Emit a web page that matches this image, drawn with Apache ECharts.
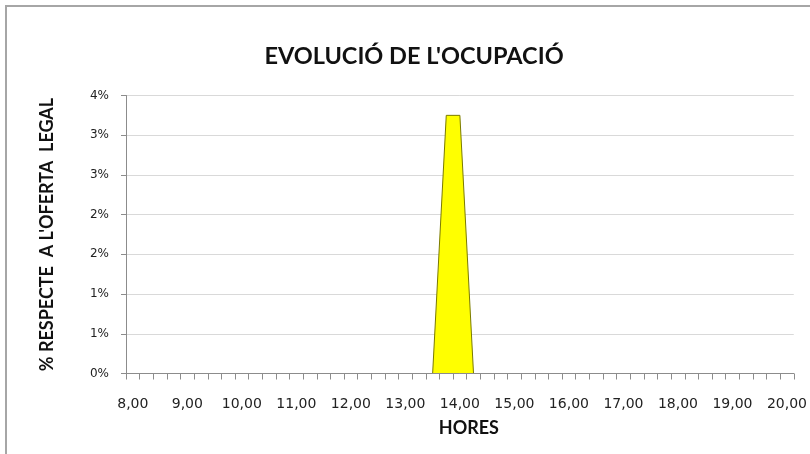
<!DOCTYPE html>
<html>
<head>
<meta charset="utf-8">
<script src="https://cdn.jsdelivr.net/npm/echarts@6/dist/echarts.min.js"></script>
<style>
  html, body { margin: 0; padding: 0; background: #fff; }
  #chart { width: 810px; height: 454px; }
</style>
</head>
<body>
<div id="chart"></div>
<script>
// Quarter-hour slots from 8,00 to 20,00
const hours = [
  '8,00','8,25','8,50','8,75','9,00','9,25','9,50','9,75',
  '10,00','10,25','10,50','10,75','11,00','11,25','11,50','11,75',
  '12,00','12,25','12,50','12,75','13,00','13,25','13,50','13,75',
  '14,00','14,25','14,50','14,75','15,00','15,25','15,50','15,75',
  '16,00','16,25','16,50','16,75','17,00','17,25','17,50','17,75',
  '18,00','18,25','18,50','18,75','19,00','19,25','19,50','19,75',
  '20,00'
];

// Occupancy as % of the legal offer, one value per slot
const occupancy = [
  0, 0, 0, 0, 0, 0, 0, 0,
  0, 0, 0, 0, 0, 0, 0, 0,
  0, 0, 0, 0, 0, 0, 0, 3.25,
  3.25, 0, 0, 0, 0, 0, 0, 0,
  0, 0, 0, 0, 0, 0, 0, 0,
  0, 0, 0, 0, 0, 0, 0, 0,
  0
];

// Value-axis range (percent)
const yMin = 0, yMax = 3.5, yStep = 0.5;

const FONT = 'Lato, "Open Sans", sans-serif';
const TICK_FONT = '"DejaVu Sans", sans-serif';
const chart = echarts.init(document.getElementById('chart'));

chart.setOption({
  backgroundColor: '#ffffff',
  animation: false,
  title: {
    text: "EVOLUCIÓ DE L'OCUPACIÓ",
    left: 409, top: 39, textAlign: 'center',
    textStyle: { fontFamily: FONT, fontWeight: 'bold', fontSize: 23.5, color: '#111' }
  },
  graphic: [{
    type: 'rect',
    shape: { x: 6, y: 6, width: 900, height: 600 },
    style: { fill: 'none', stroke: '#a6a6a6', lineWidth: 2 },
    silent: true
  }],
  grid: { left: 126, right: 16, top: 95.5, bottom: 80.5 },
  xAxis: {
    type: 'category',
    data: hours,
    boundaryGap: true,
    z: 3,
    name: 'HORES',
    nameLocation: 'middle',
    nameGap: 46,
    nameTextStyle: { fontFamily: FONT, fontWeight: 'bold', fontSize: 18, color: '#111', padding: [0, 0, 0, 18] },
    axisLine: { lineStyle: { color: '#8c8c8c', width: 1 } },
    axisTick: { show: true, interval: 0, length: 6, lineStyle: { color: '#8c8c8c' } },
    axisLabel: { interval: 3, margin: 24, fontFamily: TICK_FONT, fontSize: 14, color: '#222' },
    splitLine: { show: false }
  },
  yAxis: {
    type: 'value',
    min: yMin, max: yMax, interval: yStep,
    name: "% RESPECTE  A L'OFERTA  LEGAL",
    nameLocation: 'middle',
    nameGap: 70,
    nameTextStyle: { fontFamily: FONT, fontWeight: 'bold', fontSize: 18, color: '#111' },
    axisLine: { show: true, lineStyle: { color: '#8c8c8c', width: 1 } },
    axisTick: { show: true, length: 5, inside: false, lineStyle: { color: '#8c8c8c' } },
    axisLabel: {
      margin: 17, fontFamily: TICK_FONT, fontSize: 12, color: '#222',
      formatter: v => Math.round(v) + '%'
    },
    splitLine: { show: true, lineStyle: { color: '#d9d9d9', width: 1 } }
  },
  series: [{
    type: 'line',
    z: 1,
    data: occupancy,
    symbol: 'none',
    lineStyle: { color: '#7a7a00', width: 1 },
    areaStyle: { color: '#ffff00', opacity: 1 }
  }]
});
</script>
</body>
</html>
